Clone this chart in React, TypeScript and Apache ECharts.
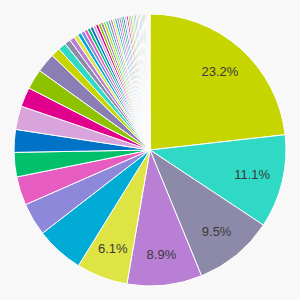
import React, { useEffect, useRef } from "react";
import * as echarts from "echarts";

const palette = [
  "#c6d500", "#2fd9c5", "#8d89a8", "#b87fd5", "#dde444", "#00abd6", "#8d88d9",
  "#e65cc0", "#00c16a", "#0073c7", "#d9a3dc", "#e1008e", "#8cc200", "#8a7eb5",
];

const majorValues = [
  23.2, 11.1, 9.5, 8.9, 6.1, 5.7, 3.9, 3.4, 2.9, 2.7, 2.8, 2.3, 2.4, 2.3, 1.1, 0.95,
];

const minorValues = [
  0.7, 0.6, 0.5, 0.46, 0.43, 0.4, 0.38, 0.36, 0.34, 0.33, 0.32, 0.31, 0.3, 0.29,
  0.28, 0.27, 0.26, 0.25, 0.25, 0.24, 0.23, 0.22, 0.22, 0.21, 0.2, 0.2, 0.19, 0.18,
  0.18, 0.17, 0.16, 0.16, 0.15, 0.14, 0.14, 0.13, 0.12, 0.11, 0.1, 0.09, 0.08, 0.07,
];

const values = [...majorValues, ...minorValues];
const categories = values.map((_, i) => `Item ${i + 1}`);

// slices that carry a percentage label
const labelledSlices = [0, 1, 2, 3, 4];

export default function App() {
  const ref = useRef<HTMLDivElement>(null);
  useEffect(() => {
    if (!ref.current) return;
    const chart = echarts.init(ref.current, null, { renderer: "svg" });
    const sliceData = values.map((v, i) => ({
      name: categories[i],
      value: v,
      itemStyle: { color: palette[i % palette.length] },
    }));
    const labelData = values.map((v, i) => ({
      name: categories[i],
      value: v,
      label: { show: labelledSlices.includes(i) },
    }));
    chart.setOption({
      animation: false,
      backgroundColor: "#f8f8f8",
      series: [
        {
          type: "pie",
          center: [150, 150],
          radius: [0, 136],
          startAngle: 90,
          clockwise: true,
          avoidLabelOverlap: false,
          silent: true,
          itemStyle: { borderColor: "#ffffff", borderWidth: 1 },
          label: { show: false },
          labelLine: { show: false },
          data: sliceData,
        },
        {
          type: "pie",
          center: [150, 150],
          radius: [100, 104],
          startAngle: 90,
          clockwise: true,
          avoidLabelOverlap: false,
          silent: true,
          percentPrecision: 1,
          itemStyle: { color: "rgba(0,0,0,0)", borderWidth: 0 },
          label: {
            position: "inside",
            formatter: "{d}%",
            color: "#3a3a3a",
            fontSize: 13,
            fontFamily: "Liberation Sans, Arial, sans-serif",
          },
          labelLine: { show: false },
          data: labelData,
        },
      ],
    });
    return () => chart.dispose();
  }, []);
  return (
    <div
      ref={ref}
      style={{ position: "fixed", left: 0, top: 0, width: 300, height: 300 }}
    />
  );
}
